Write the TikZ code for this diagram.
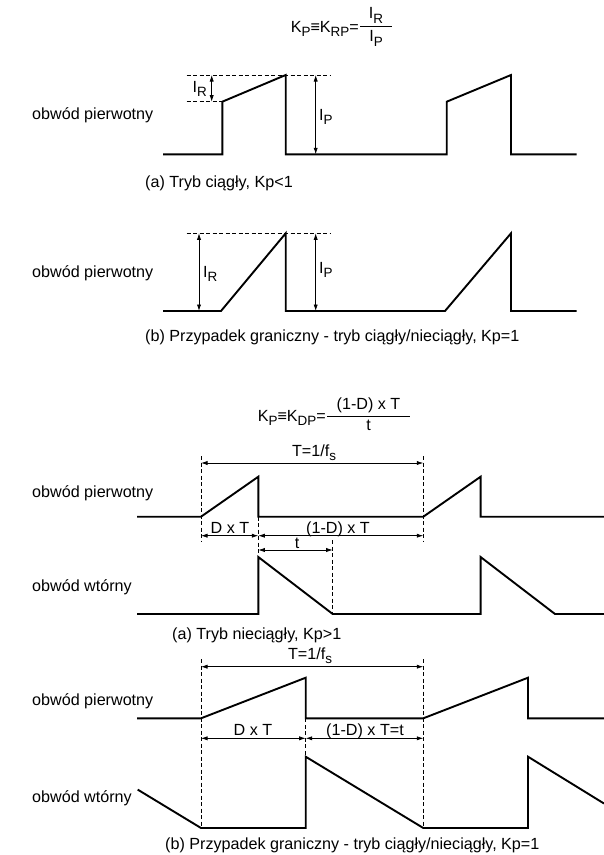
\documentclass[tikz,border=0pt]{standalone}
\usepackage{fontspec}
\setmainfont{Liberation Sans}
\usetikzlibrary{arrows.meta}
\newcommand\subs[1]{\raisebox{-0.3em}{\fontsize{13.5}{14}\selectfont #1}}
\begin{document}
\begin{tikzpicture}[x=1bp,y=-1bp,
  wave/.style={line width=1.9bp,line join=miter,line cap=butt},
  dimarrow/.style={line width=0.75bp,{Latex[length=6.5bp,width=4.2bp]}-{Latex[length=6.5bp,width=4.2bp]}},
  guide/.style={line width=0.75bp,dash pattern=on 4bp off 2.5bp},
  txt/.style={font=\fontsize{16.2}{19}\selectfont,inner sep=0pt},
  fracline/.style={line width=0.8bp}]
\useasboundingbox[fill=white] (0,0) rectangle (604,855);

% ---------- formula 1 ----------
\node[txt,anchor=base east] (f1) at (359,32) {K\subs{P}≡K\subs{RP}=};
\coordinate (f1a) at (360,26.7);
\coordinate (f1b) at (392,26.7);
\draw[fracline] (f1a) -- (f1b);
\node[txt,anchor=south] (f1n) at (376,23.5) {I\subs{R}};
\node[txt,anchor=north] (f1d) at (376,30) {I\subs{P}};

% ---------- panel 1 ----------
\node[txt,anchor=west] (l1) at (32,115) {obwód pierwotny};
\draw[wave] (163,154.3) -- (222.3,154.3) -- (222.3,101.7) -- (285.7,75) -- (285.7,154.3)
  -- (446.7,154.3) -- (446.7,101.7) -- (511,75) -- (511,154.3) -- (576.7,154.3);
\coordinate (d1a) at (186.7,75);   \coordinate (d1b) at (330,75);
\coordinate (d1c) at (186.7,101.7); \coordinate (d1d) at (222.3,101.7);
\draw[guide] (d1a) -- (d1b);
\draw[guide] (d1c) -- (d1d);
\coordinate (ir1a) at (211.7,75); \coordinate (ir1b) at (211.7,101.7);
\draw[dimarrow] (ir1a) -- (ir1b);
\node[txt,anchor=east] (ir1) at (207,89) {I\subs{R}};
\coordinate (ip1a) at (315.7,75); \coordinate (ip1b) at (315.7,154.3);
\draw[dimarrow] (ip1a) -- (ip1b);
\node[txt,anchor=west] (ip1) at (319,117) {I\subs{P}};
\node[txt,anchor=west] (c1) at (145,183) {(a) Tryb ciągły, Kp<1};

% ---------- panel 2 ----------
\node[txt,anchor=west] (l2) at (32,273) {obwód pierwotny};
\draw[wave] (163,311) -- (221,311) -- (285.7,233.3) -- (285.7,311)
  -- (445,311) -- (511,233.3) -- (511,311) -- (576.7,311);
\coordinate (d2a) at (186.7,233.3); \coordinate (d2b) at (330,233.3);
\draw[guide] (d2a) -- (d2b);
\coordinate (ir2a) at (199,233.3); \coordinate (ir2b) at (199,311);
\draw[dimarrow] (ir2a) -- (ir2b);
\node[txt,anchor=west] (ir2) at (203,274) {I\subs{R}};
\coordinate (ip2a) at (315.7,233.3); \coordinate (ip2b) at (315.7,311);
\draw[dimarrow] (ip2a) -- (ip2b);
\node[txt,anchor=west] (ip2) at (319,270) {I\subs{P}};
\node[txt,anchor=west] (c2) at (145,337) {(b) Przypadek graniczny - tryb ciągły/nieciągły, Kp=1};

% ---------- formula 2 ----------
\node[txt,anchor=base east] (f2) at (326,421) {K\subs{P}≡K\subs{DP}=};
\coordinate (f2a) at (327,416); \coordinate (f2b) at (410,416);
\draw[fracline] (f2a) -- (f2b);
\node[txt,anchor=south] (f2n) at (368.5,413) {(1-D) x T};
\node[txt,anchor=north] (f2d) at (368.5,419.5) {t};

% ---------- panel 3 ----------
\node[txt,anchor=west] (l3) at (32,493) {obwód pierwotny};
\node[txt,anchor=west] (l4) at (32,587) {obwód wtórny};
\draw[wave] (137,516.7) -- (201,516.7) -- (258.3,476.7) -- (258.3,516.7)
  -- (423.3,516.7) -- (480.6,476.7) -- (480.6,516.7) -- (604,516.7);
\draw[wave] (137,614) -- (258.3,614) -- (258.3,557) -- (332.7,614)
  -- (480.6,614) -- (480.6,557) -- (555,614) -- (604,614);
\coordinate (g3a) at (201,456);   \coordinate (g3b) at (201,541);
\coordinate (g3c) at (423.3,456); \coordinate (g3d) at (423.3,541);
\coordinate (g3e) at (258.3,516.7); \coordinate (g3f) at (258.3,557);
\coordinate (g3g) at (332.7,540); \coordinate (g3h) at (332.7,614);
\draw[guide] (g3a) -- (g3b);
\draw[guide] (g3c) -- (g3d);
\draw[guide] (g3e) -- (g3f);
\draw[guide] (g3g) -- (g3h);
\coordinate (t3a) at (201,463); \coordinate (t3b) at (423.3,463);
\draw[dimarrow] (t3a) -- (t3b);
\node[txt,anchor=base] (t3) at (314,456) {T=1/f\subs{s}};
\coordinate (dt3a) at (201,535.7); \coordinate (dt3b) at (258.3,535.7); \coordinate (dt3c) at (423.3,535.7);
\draw[dimarrow] (dt3a) -- (dt3b);
\draw[dimarrow] (dt3b) -- (dt3c);
\node[txt,anchor=base] (dx3) at (230,533) {D x T};
\node[txt,anchor=base] (odx3) at (338,533) {(1-D) x T};
\coordinate (tt3a) at (258.3,550); \coordinate (tt3b) at (332.7,550);
\draw[dimarrow] (tt3a) -- (tt3b);
\node[txt,anchor=base] (tl3) at (297,548) {t};
\node[txt,anchor=west] (c3) at (172,635) {(a) Tryb nieciągły, Kp>1};

% ---------- panel 4 ----------
\node[txt,anchor=west] (l5) at (32,701) {obwód pierwotny};
\node[txt,anchor=west] (l6) at (32,798) {obwód wtórny};
\draw[wave] (137,718.3) -- (201,718.3) -- (305.7,677.7) -- (305.7,718.3)
  -- (423.3,718.3) -- (528,677.7) -- (528,718.3) -- (604,718.3);
\draw[wave] (137.7,789.6) -- (201,828) -- (305.7,828) -- (305.7,756.7) -- (423.3,828)
  -- (528,828) -- (528,756.7) -- (604,803.5);
\coordinate (g4a) at (201,659);   \coordinate (g4b) at (201,828);
\coordinate (g4c) at (423.3,659); \coordinate (g4d) at (423.3,828);
\coordinate (g4e) at (305.7,718.3); \coordinate (g4f) at (305.7,756.7);
\draw[guide] (g4a) -- (g4b);
\draw[guide] (g4c) -- (g4d);
\draw[guide] (g4e) -- (g4f);
\coordinate (t4a) at (201,666.7); \coordinate (t4b) at (423.3,666.7);
\draw[dimarrow] (t4a) -- (t4b);
\node[txt,anchor=base] (t4) at (310,659) {T=1/f\subs{s}};
\coordinate (dt4a) at (201,738.3); \coordinate (dt4b) at (305.7,738.3); \coordinate (dt4c) at (423.3,738.3);
\draw[dimarrow] (dt4a) -- (dt4b);
\draw[dimarrow] (dt4b) -- (dt4c);
\node[txt,anchor=base] (dx4) at (253,735) {D x T};
\node[txt,anchor=base] (odx4) at (365,735) {(1-D) x T=t};
\node[txt,anchor=west] (c4) at (165,845) {(b) Przypadek graniczny - tryb ciągły/nieciągły, Kp=1};
\end{tikzpicture}
\end{document}
